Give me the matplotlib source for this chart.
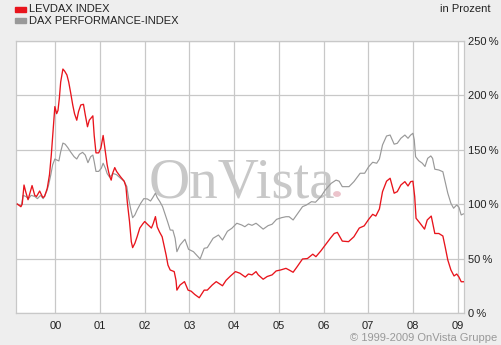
import matplotlib
matplotlib.use("Agg")
import matplotlib.pyplot as plt
from matplotlib.patches import Rectangle, Circle

# LevDAX vs. DAX performance, indexed to 100 at start (decimal years)
levdax_t = [1999.15, 1999.23, 1999.26, 1999.30, 1999.34, 1999.39, 1999.48, 1999.54, 1999.58,
            1999.65, 1999.72, 1999.76, 1999.82, 1999.87, 1999.91, 1999.96, 1999.99, 2000.03,
            2000.06, 2000.09, 2000.12, 2000.17, 2000.21, 2000.26, 2000.30, 2000.34, 2000.39,
            2000.43, 2000.48, 2000.52, 2000.57, 2000.63, 2000.67, 2000.72, 2000.76, 2000.84,
            2000.87, 2000.91, 2000.97, 2001.02, 2001.07, 2001.12, 2001.16, 2001.19, 2001.22,
            2001.25, 2001.28, 2001.33, 2001.37, 2001.46, 2001.54, 2001.58, 2001.61, 2001.66,
            2001.70, 2001.73, 2001.78, 2001.83, 2001.89, 2001.96, 2002.00, 2002.06, 2002.15,
            2002.19, 2002.24, 2002.28, 2002.33, 2002.39, 2002.43, 2002.48, 2002.52, 2002.57,
            2002.66, 2002.70, 2002.72, 2002.79, 2002.89, 2002.97, 2003.04, 2003.12, 2003.22,
            2003.33, 2003.40, 2003.51, 2003.60, 2003.74, 2003.82, 2003.92, 2004.03, 2004.13,
            2004.25, 2004.32, 2004.40, 2004.49, 2004.54, 2004.65, 2004.74, 2004.85, 2004.94,
            2005.04, 2005.16, 2005.23, 2005.32, 2005.41, 2005.53, 2005.64, 2005.76, 2005.83,
            2005.94, 2006.04, 2006.16, 2006.24, 2006.31, 2006.42, 2006.56, 2006.68, 2006.80,
            2006.91, 2007.01, 2007.10, 2007.17, 2007.25, 2007.32, 2007.41, 2007.49, 2007.58,
            2007.65, 2007.73, 2007.82, 2007.89, 2007.95, 2008.00, 2008.04, 2008.07, 2008.16,
            2008.26, 2008.32, 2008.41, 2008.49, 2008.58, 2008.67, 2008.72, 2008.78, 2008.85,
            2008.92, 2008.98, 2009.03, 2009.08, 2009.13]
levdax_v = [100, 97.6, 100, 117.5, 111, 104, 117, 108, 107,
            112, 106, 107, 114.5, 127, 145, 172.6, 189.5, 183,
            186, 197, 212, 224, 222, 218.5, 212, 203, 191,
            183, 177, 185, 191, 191.6, 182, 171, 177, 181,
            163, 147, 147, 151.5, 163, 148, 136, 130, 125,
            122, 128, 133.5, 130, 125, 121, 116, 102, 84,
            65.5, 60, 64, 70, 78, 82, 84, 81.5, 78,
            82, 88.5, 79, 74.5, 70, 62.4, 53, 44, 39.5,
            38, 30, 21, 25.7, 28.8, 21, 20, 17, 14,
            21, 21, 25.7, 28.8, 25, 30, 34, 38, 36.5,
            33, 35.8, 35, 38, 35, 31, 33.5, 35, 38.6,
            39.5, 41, 39.5, 37.4, 42.5, 49.6, 50, 54, 51.7,
            57, 62.4, 69, 73, 74, 66, 65.5, 70, 78,
            80, 86, 90.6, 89, 95.5, 111.4, 121, 123.7, 110,
            111.4, 117.5, 120.6, 116.6, 120.6, 121, 106.8, 87, 82.4,
            77, 85.4, 89, 73, 73, 70.7, 61, 48.7, 39.5,
            34, 35.8, 33, 28.7, 28.7]

dax_t = [1999.15, 1999.24, 1999.28, 1999.34, 1999.40, 1999.46, 1999.54, 1999.60, 1999.67,
         1999.73, 1999.81, 1999.85, 1999.90, 1999.94, 1999.99, 2000.03, 2000.08, 2000.12,
         2000.17, 2000.22, 2000.28, 2000.34, 2000.42, 2000.48, 2000.54, 2000.61, 2000.67,
         2000.73, 2000.79, 2000.84, 2000.87, 2000.91, 2000.97, 2001.03, 2001.07, 2001.12,
         2001.16, 2001.21, 2001.25, 2001.30, 2001.37, 2001.46, 2001.54, 2001.60, 2001.64,
         2001.69, 2001.73, 2001.78, 2001.83, 2001.91, 2001.98, 2002.06, 2002.13, 2002.18,
         2002.24, 2002.28, 2002.34, 2002.40, 2002.45, 2002.51, 2002.57, 2002.63, 2002.68,
         2002.72, 2002.79, 2002.90, 2002.98, 2003.09, 2003.24, 2003.33, 2003.40, 2003.53,
         2003.65, 2003.74, 2003.85, 2003.95, 2004.06, 2004.17, 2004.24, 2004.32, 2004.40,
         2004.49, 2004.54, 2004.65, 2004.76, 2004.85, 2004.95, 2005.06, 2005.16, 2005.23,
         2005.32, 2005.41, 2005.53, 2005.62, 2005.73, 2005.82, 2005.94, 2006.04, 2006.17,
         2006.28, 2006.35, 2006.42, 2006.57, 2006.68, 2006.82, 2006.92, 2007.01, 2007.10,
         2007.19, 2007.25, 2007.32, 2007.41, 2007.49, 2007.58, 2007.65, 2007.73, 2007.82,
         2007.89, 2007.95, 2008.00, 2008.03, 2008.06, 2008.13, 2008.21, 2008.27, 2008.33,
         2008.40, 2008.44, 2008.49, 2008.58, 2008.67, 2008.72, 2008.78, 2008.85, 2008.91,
         2008.98, 2009.03, 2009.08, 2009.13]
dax_v = [100, 98.5, 108, 107, 105, 108, 107, 105, 108,
         105, 112, 117.5, 127, 136, 141.4, 140.5, 139.6, 148,
         156, 155, 151.8, 148, 143.5, 141.4, 145.7, 147.5, 145,
         138, 143.5, 145, 139, 130, 130, 133, 137.5, 133,
         128, 125, 126, 128, 127, 123.7, 121, 116, 105,
         94.6, 87.5, 90, 94.6, 100.7, 105, 104.7, 102.8, 105.9,
         110, 106, 102.2, 97.6, 91.5, 84, 76.2, 76, 68.6,
         56.3, 62.4, 67.7, 58.5, 56.3, 49.6, 59.4, 60, 68.6,
         71.6, 67, 75, 77.8, 82.4, 80.8, 79.2, 81.7, 80.5,
         82.4, 80.8, 77, 80.2, 81.5, 86, 87.5, 88.4, 88.4,
         85.4, 90.6, 97.6, 99.2, 102.2, 101.7, 106.8, 113, 119,
         122, 121, 116, 116, 120.6, 128.3, 128.3, 134.3, 138.4,
         137.5, 141.4, 154.3, 162.5, 163.4, 155, 155.8, 160.4, 163.4,
         160.4, 163.4, 165, 158.9, 143.5, 139.9, 137.5, 134.5, 142,
         144.2, 142, 132, 131.3, 129.7, 120.6, 110, 100.7, 96.2,
         99.2, 97, 90, 91]

years = list(range(2000, 2010))
year_labels = ["00", "01", "02", "03", "04", "05", "06", "07", "08", "09"]
pct_ticks = [0, 50, 100, 150, 200, 250]

RED = "#e8141c"
GREY = "#999999"
GRID = "#c8c8c8"
BG = "#eeeeee"
FONT = "Liberation Sans"

W, H = 501, 345
fig = plt.figure(figsize=(W / 100, H / 100), dpi=100, facecolor=BG)
ax = fig.add_axes([15.7 / W, (H - 313) / H, (463.7 - 15.7) / W, (313 - 40.7) / H])
ax.set_facecolor("white")

ax.set_xlim(1999.114, 2009.136)
ax.set_ylim(0, 250)

ax.set_xticks(years)
ax.set_xticklabels(year_labels, fontsize=8, family=FONT, color="#222222")
ax.set_yticks(pct_ticks)
ax.set_yticklabels([f"{p}\u2009%" for p in pct_ticks], fontsize=8, family=FONT, color="#222222")
ax.yaxis.tick_right()
ax.tick_params(length=0, pad=3)
ax.tick_params(axis="x", pad=6)
ax.grid(True, color=GRID, lw=0.9)
ax.set_axisbelow(True)
for s in ax.spines.values():
    s.set_color(GRID)
    s.set_linewidth(0.9)

# watermark logo behind the lines
ax.text(149 / W, (H - 197.5) / H, "OnVista", transform=fig.transFigure,
        family="Liberation Serif", fontsize=41, color="#c8c8c8",
        ha="left", va="baseline", zorder=1)
fig.add_artist(Circle((337 / W, (H - 194) / H), 3.2 / W, transform=fig.transFigure,
                      color="#ecc4cc", zorder=1))

ax.plot(dax_t, dax_v, color=GREY, lw=0.85, zorder=3)
ax.plot(levdax_t, levdax_v, color=RED, lw=0.95, zorder=4)

# legend
fig.add_artist(Rectangle((15 / W, (H - 12) / H), 11 / W, 5 / H,
                         transform=fig.transFigure, color=RED))
fig.add_artist(Rectangle((15 / W, (H - 23) / H), 11 / W, 5 / H,
                         transform=fig.transFigure, color=GREY))
fig.text(29 / W, (H - 9.5) / H, "LEVDAX INDEX", fontsize=8, family=FONT,
         color="#222222", va="center")
fig.text(29 / W, (H - 20.5) / H, "DAX PERFORMANCE-INDEX", fontsize=8, family=FONT,
         color="#222222", va="center")
fig.text(490 / W, (H - 9.5) / H, "in Prozent", fontsize=8, family=FONT,
         color="#222222", va="center", ha="right")
fig.text(497 / W, (H - 338) / H, "\u00a9 1999-2009 OnVista Gruppe", fontsize=8,
         family=FONT, color="#999999", va="center", ha="right")

fig.savefig("out.png", dpi=100, facecolor=BG)
